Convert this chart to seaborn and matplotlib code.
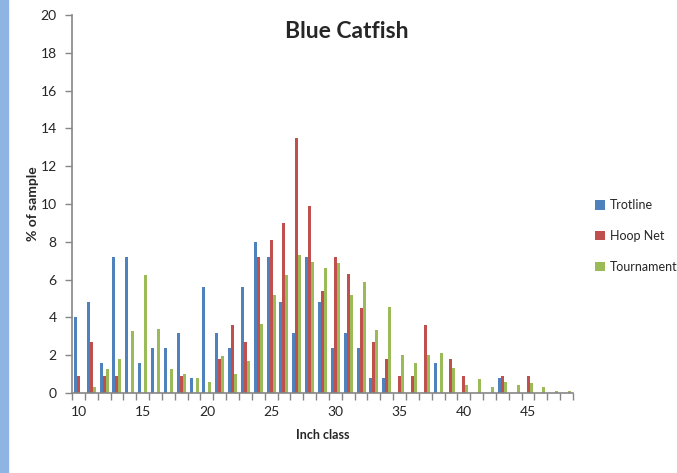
import numpy as np
import pandas as pd
import matplotlib
matplotlib.use("Agg")
import matplotlib.pyplot as plt
import seaborn as sns

inch_class = list(range(10, 49))
trotline = [4.0, 4.8, 1.6, 7.2, 7.2, 1.6, 2.4, 2.4, 3.2, 0.8,
            5.6, 3.2, 2.4, 5.6, 8.0, 7.2, 4.8, 3.2, 7.2, 4.8,
            2.4, 3.2, 2.4, 0.8, 0.8, 0, 0, 0, 1.6, 0,
            0, 0, 0, 0.8, 0, 0, 0, 0, 0]
hoop_net = [0.9, 2.7, 0.9, 0.9, 0, 0, 0, 0, 0.9, 0,
            0, 1.8, 3.6, 2.7, 7.2, 8.1, 9.0, 13.5, 9.9, 5.4,
            7.2, 6.3, 4.5, 2.7, 1.8, 0.9, 0.9, 3.6, 0, 1.8,
            0.9, 0, 0, 0.9, 0, 0.9, 0, 0, 0]
tournament = [0, 0.3, 1.25, 1.8, 3.3, 6.25, 3.4, 1.25, 1.0, 0.8,
              0.6, 1.95, 1.0, 1.7, 3.65, 5.2, 6.25, 7.3, 6.95, 6.6,
              6.9, 5.2, 5.85, 3.35, 4.55, 2.0, 1.6, 2.0, 2.1, 1.3,
              0.4, 0.75, 0.3, 0.6, 0.4, 0.55, 0.3, 0.1, 0.1]
series_names = ["Trotline", "Hoop Net", "Tournament"]
colors = ["#4F81BD", "#C0504D", "#9BBB59"]
x_labels = [10, 15, 20, 25, 30, 35, 40, 45]

df = pd.DataFrame({
    "inch": inch_class * 3,
    "pct": trotline + hoop_net + tournament,
    "method": [s for s in series_names for _ in inch_class],
})

sns.set_theme(style="white")
plt.rcParams["font.family"] = ["Lato", "DejaVu Sans"]

fig = plt.figure(figsize=(6.77, 4.73), dpi=100)
ax = fig.add_axes([72 / 677, 80 / 473, 501 / 677, 378 / 473])

sns.barplot(data=df, x="inch", y="pct", hue="method", hue_order=series_names,
            palette=colors, saturation=1, width=0.7, linewidth=0, ax=ax)

# light blue slide edge on the left
fig.patches.append(plt.Rectangle((0, 0), 8 / 677, 1, transform=fig.transFigure,
                                 color="#8DB4E2", zorder=0))

ax.set_xlim(-0.5, len(inch_class) - 0.5)
ax.set_ylim(0, 20)
ax.set_yticks(np.arange(0, 21, 2))
ax.set_xticks([inch_class.index(v) for v in x_labels])
ax.set_xticklabels([str(v) for v in x_labels])
ax.set_xticks(np.arange(-0.5, len(inch_class), 1), minor=True)
ax.tick_params(axis="x", which="major", length=0, pad=9, labelsize=10)
ax.tick_params(axis="x", which="minor", length=5, width=1, color="#868686", direction="out", bottom=True)
ax.tick_params(axis="y", length=5, width=1, color="#868686", direction="out", left=True, labelsize=10, pad=6)

for side in ["top", "right"]:
    ax.spines[side].set_visible(False)
for side in ["left", "bottom"]:
    ax.spines[side].set_color("#868686")
    ax.spines[side].set_linewidth(1.2)

ax.set_xlabel("Inch class", fontsize=9, fontweight="bold", labelpad=8)
ax.set_ylabel("% of sample", fontsize=10, fontweight="bold", labelpad=1)
fig.text(347 / 677, 1 - 32 / 473, "Blue Catfish", fontsize=16.5, fontweight="bold",
         ha="center", va="center")

ax.legend(loc="center left", bbox_to_anchor=(595 / 677, 1 - 236 / 473),
          bbox_transform=fig.transFigure, frameon=False, fontsize=9,
          handlelength=0.8, handleheight=0.8, handletextpad=0.4,
          labelspacing=1.5, borderpad=0, borderaxespad=0)

fig.savefig("out.png", dpi=100)
